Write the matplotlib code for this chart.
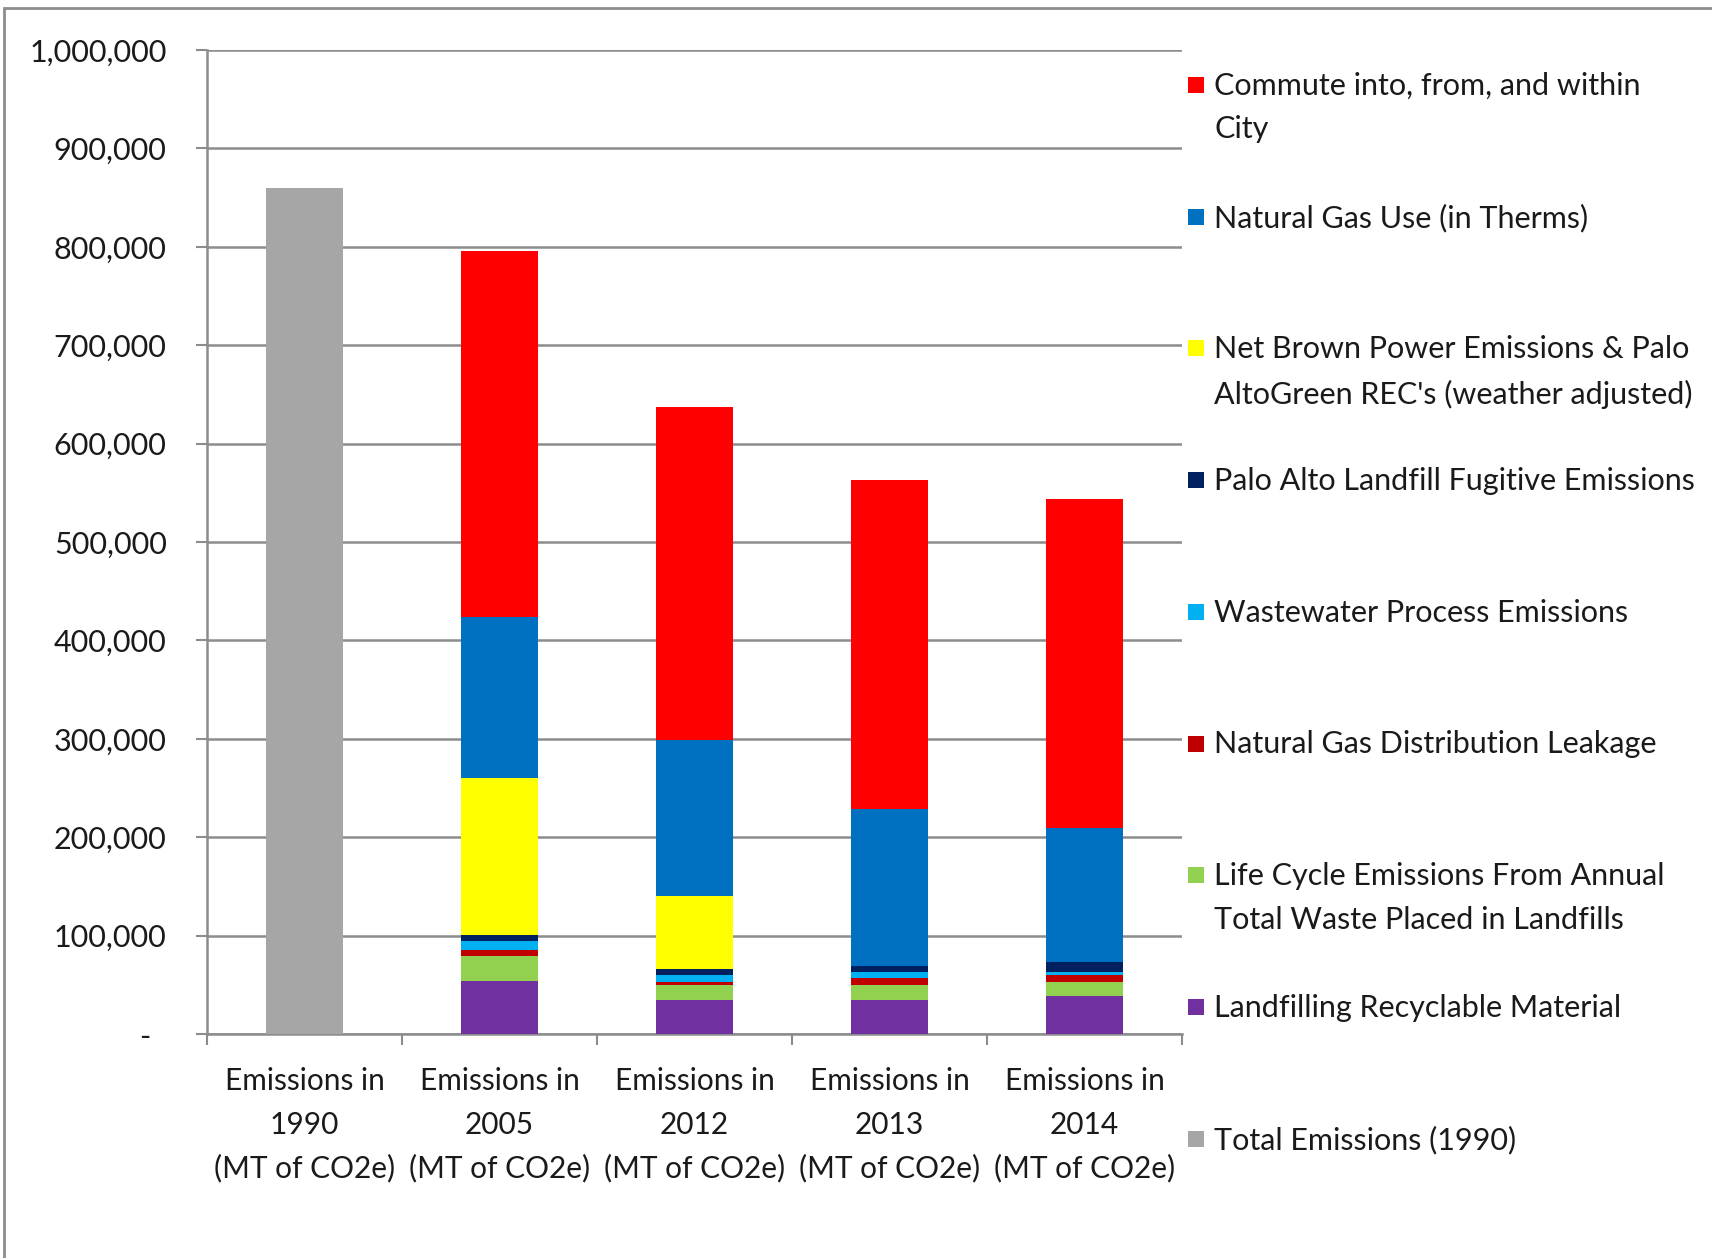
import matplotlib
matplotlib.use("Agg")
import matplotlib.pyplot as plt
from matplotlib.patches import Rectangle
from matplotlib.ticker import FuncFormatter, MultipleLocator, FixedLocator
import numpy as np

plt.rcParams['font.family'] = ['Lato', 'DejaVu Sans']

categories = ["Emissions in\n1990\n(MT of CO2e)", "Emissions in\n2005\n(MT of CO2e)",
              "Emissions in\n2012\n(MT of CO2e)", "Emissions in\n2013\n(MT of CO2e)",
              "Emissions in\n2014\n(MT of CO2e)"]

landfilling_recyclable = [0, 53800, 34700, 34700, 38200]
life_cycle_waste = [0, 25000, 15600, 15600, 14900]
ng_distribution_leak = [0, 6300, 2800, 6300, 6600]
wastewater = [0, 9400, 6600, 6600, 3800]
landfill_fugitive = [0, 6300, 6300, 6200, 9400]
net_brown_power = [0, 159000, 73800, 0, 0]
natural_gas_use = [0, 164000, 158800, 159200, 136900]
commute = [0, 372000, 338400, 334100, 334000]
total_1990 = [860000, 0, 0, 0, 0]

series = [
    ("Landfilling Recyclable Material", landfilling_recyclable, "#7030A0"),
    ("Life Cycle Emissions From Annual\nTotal Waste Placed in Landfills", life_cycle_waste, "#92D050"),
    ("Natural Gas Distribution Leakage", ng_distribution_leak, "#C00000"),
    ("Wastewater Process Emissions", wastewater, "#00B0F0"),
    ("Palo Alto Landfill Fugitive Emissions", landfill_fugitive, "#002060"),
    ("Net Brown Power Emissions & Palo\nAltoGreen REC's (weather adjusted)", net_brown_power, "#FFFF00"),
    ("Natural Gas Use (in Therms)", natural_gas_use, "#0070C0"),
    ("Commute into, from, and within\nCity", commute, "#FF0000"),
]

W, H = 1712, 1258
fig = plt.figure(figsize=(W / 100, H / 100), dpi=100)
ax = fig.add_axes([207 / W, 1 - 1034 / H, (1182 - 207) / W, (1034 - 50) / H])

x = np.arange(len(categories))
bw = 0.39
bottom = np.zeros(len(categories))
for name, vals, col in series:
    v = np.array(vals, dtype=float)
    ax.bar(x, v, bw, bottom=bottom, color=col, zorder=3)
    bottom += v
ax.bar(x, total_1990, bw, color="#A6A6A6", zorder=3)

gc = "#8C8C8C"
ax.set_xlim(-0.5, len(categories) - 0.5)
ax.set_ylim(0, 1000000)
ax.yaxis.set_major_locator(MultipleLocator(100000))
ax.yaxis.set_major_formatter(FuncFormatter(lambda v, p: "-  " if v == 0 else f"{int(v):,}"))
ax.grid(axis='y', color=gc, linewidth=1.8, zorder=0)
for s in ['top', 'right']:
    ax.spines[s].set_visible(False)
for s in ['left', 'bottom']:
    ax.spines[s].set_color(gc)
    ax.spines[s].set_linewidth(1.8)
ax.tick_params(axis='y', length=8, width=1.5, color=gc, pad=21, labelsize=22, labelcolor='#1a1a1a')

ax.xaxis.set_major_locator(FixedLocator(x))
ax.set_xticklabels(categories, fontsize=21.5, linespacing=1.66, color='#1a1a1a')
ax.xaxis.set_minor_locator(FixedLocator(np.arange(-0.5, len(categories), 1.0)))
ax.tick_params(axis='x', which='major', length=0, pad=24)
ax.tick_params(axis='x', which='minor', length=8, width=1.5, color=gc)

# legend drawn on the figure (Excel-style spread)
legend_items = [(n, c) for n, v, c in reversed(series)] + [("Total Emissions (1990)", "#A6A6A6")]
y0, dy = 85, 131.7
for i, (name, col) in enumerate(legend_items):
    yc = y0 + i * dy
    fig.patches.append(Rectangle((1188 / W, 1 - (yc + 8) / H), 16 / W, 16 / H,
                                 transform=fig.transFigure, facecolor=col, edgecolor='none'))
    fig.text(1214 / W, 1 - (yc - 13) / H, name, fontsize=22, va='top', ha='left',
             linespacing=1.67, color='#1a1a1a')

# outer border
fig.patches.append(Rectangle((4 / W, -0.05), 1.2, 1 - 8 / H + 0.05, transform=fig.transFigure,
                             facecolor='none', edgecolor='#8C8C8C', linewidth=2))

fig.savefig("out.png", dpi=100, facecolor='white')
